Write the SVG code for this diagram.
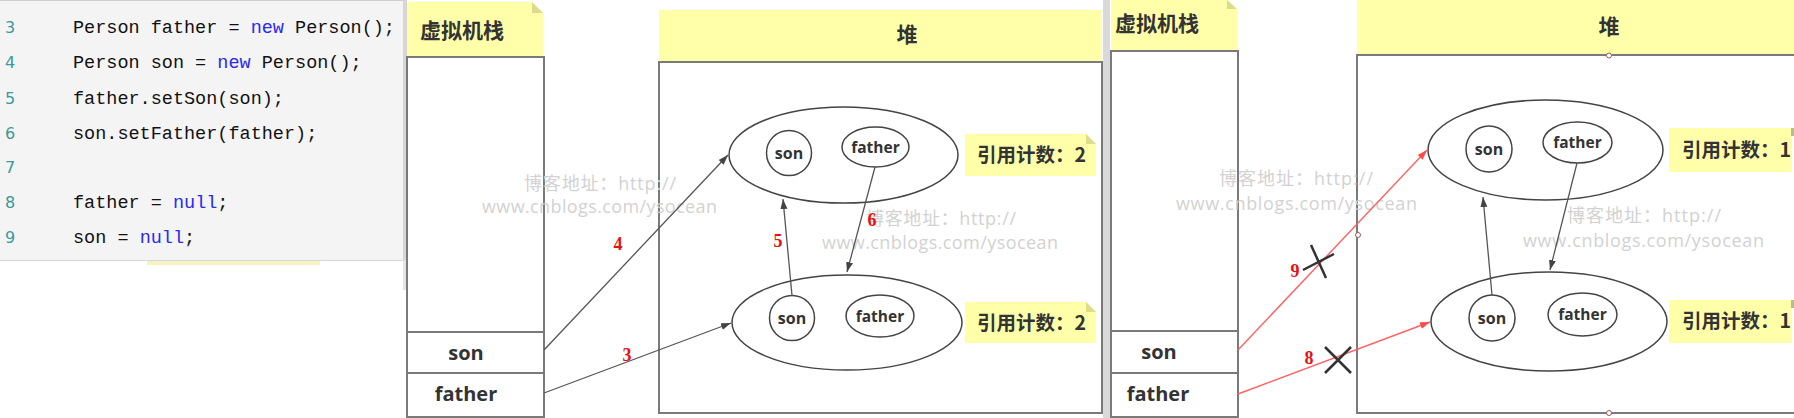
<svg xmlns="http://www.w3.org/2000/svg" width="1794" height="418" viewBox="0 0 1794 418">
<defs>
<style>
.code{font-family:"Liberation Mono","Courier New",monospace;font-size:18.5px;fill:#111;white-space:pre}
.kw{fill:#2a2af0}
.ln{font-family:"DejaVu Sans",sans-serif;font-size:16px;fill:#3a9a9a}
.hdr{fill:#ffffaa}
.fold{fill:#dcdc8c}
.box{fill:none;stroke:#7a7a7a;stroke-width:2}
.cjk{font-family:"Noto Sans CJK SC","Noto Sans",sans-serif;font-weight:bold;fill:#333}
.lbl{font-family:"Open Sans","Noto Sans",sans-serif;font-weight:bold;fill:#333;text-anchor:middle}
.ell{fill:#fff;stroke:#444;stroke-width:1.5}
.in{fill:none;stroke:#444;stroke-width:1.5}
.arr{stroke:#555;stroke-width:1.3;fill:none;marker-end:url(#ah)}
.rarr{stroke:#ff6262;stroke-width:1.4;fill:none;marker-end:url(#rah)}
.num{font-family:"Liberation Serif","Times New Roman",serif;font-weight:bold;font-size:18px;fill:#e81010;text-anchor:middle}
.wm{font-family:"Open Sans","Noto Sans","Noto Sans CJK SC",sans-serif;font-size:18px;fill:#d2d2d2}
.x{stroke:#333;stroke-width:2.5;fill:none}
.hd{fill:#fff;stroke:#a05a5a;stroke-width:1}
</style>
<marker id="ah" markerWidth="11" markerHeight="8" refX="10" refY="3.5" orient="auto" markerUnits="userSpaceOnUse"><path d="M0,0 L10,3.5 L0,7 z" fill="#444"/></marker>
<marker id="rah" markerWidth="11" markerHeight="8" refX="10" refY="3.5" orient="auto" markerUnits="userSpaceOnUse"><path d="M0,0 L10,3.5 L0,7 z" fill="#ff4a4a"/></marker>
</defs>
<rect width="1794" height="418" fill="#fff"/>

<g id="code">
<rect x="0" y="0" width="406" height="260" fill="#f4f4f4"/>
<line x1="0" y1="0.5" x2="406" y2="0.5" stroke="#cfcfcf"/>
<rect x="403" y="0" width="4" height="260" fill="#d6d6d6"/>
<line x1="0" y1="260.5" x2="406" y2="260.5" stroke="#d8d8d8"/>
<rect x="147" y="261" width="173" height="4" fill="#f6f2c4"/>
<rect x="403" y="260" width="3" height="30" fill="#e4e4e4"/>
<text class="ln" x="5" y="33">3</text>
<text class="ln" x="5" y="68">4</text>
<text class="ln" x="5" y="104">5</text>
<text class="ln" x="5" y="139">6</text>
<text class="ln" x="5" y="173">7</text>
<text class="ln" x="5" y="208">8</text>
<text class="ln" x="5" y="243">9</text>
<text class="code" x="73" y="33">Person father = <tspan class="kw">new</tspan> Person();</text>
<text class="code" x="73" y="68">Person son = <tspan class="kw">new</tspan> Person();</text>
<text class="code" x="73" y="104">father.setSon(son);</text>
<text class="code" x="73" y="139">son.setFather(father);</text>
<text class="code" x="73" y="208">father = <tspan class="kw">null</tspan>;</text>
<text class="code" x="73" y="243">son = <tspan class="kw">null</tspan>;</text>
</g>

<g id="stack1">
<polygon class="hdr" points="407,2 532,2 543,13 543,57 407,57"/>
<polygon class="fold" points="532,2 532,13 543,13"/>
<text class="cjk" x="420" y="38" font-size="21">虚拟机栈</text>
<rect class="box" x="407" y="57" width="137" height="360"/>
<line class="box" x1="407" y1="332" x2="544" y2="332"/>
<line class="box" x1="407" y1="373" x2="544" y2="373"/>
<text class="lbl" x="466" y="360" font-size="20">son</text>
<text class="lbl" x="466" y="401" font-size="20">father</text>
</g>

<g id="heap1">
<rect class="hdr" x="659" y="10" width="443" height="52"/>
<text class="cjk" x="907" y="42" font-size="21" text-anchor="middle">堆</text>
<rect class="box" x="659" y="62" width="443" height="351"/>
</g>

<g id="obj1a">
<ellipse class="ell" cx="843.5" cy="155" rx="114.5" ry="48"/>
<circle class="in" cx="789" cy="153" r="22.5"/>
<text class="lbl" x="789" y="159" font-size="16">son</text>
<ellipse class="in" cx="875.5" cy="147" rx="33.5" ry="20"/>
<text class="lbl" x="875.5" y="152.5" font-size="15.5">father</text>
</g>
<g id="obj1b">
<ellipse class="ell" cx="847" cy="322.5" rx="115" ry="47.5"/>
<circle class="in" cx="792" cy="318" r="22.5"/>
<text class="lbl" x="792" y="324" font-size="16">son</text>
<ellipse class="in" cx="880" cy="316" rx="34" ry="21"/>
<text class="lbl" x="880" y="321.5" font-size="15.5">father</text>
</g>
<g id="note1a">
<polygon class="hdr" points="965,134 1086,134 1096,144 1096,176 965,176"/>
<polygon class="fold" points="1086,134 1086,144 1096,144"/>
<text class="cjk" x="977" y="162" font-size="19.5">引用计数：2</text>
</g>
<g id="note1b">
<polygon class="hdr" points="965,302 1086,302 1096,312 1096,343 965,343"/>
<polygon class="fold" points="1086,302 1086,312 1096,312"/>
<text class="cjk" x="977" y="330" font-size="19.5">引用计数：2</text>
</g>

<rect id="separator" x="1103" y="0" width="7" height="418" fill="#d9d9d9"/>

<g id="stack2">
<polygon class="hdr" points="1111,0 1227,0 1237,9 1237,51 1111,51"/>
<polygon class="fold" points="1227,0 1227,9 1237,9"/>
<text class="cjk" x="1115" y="31" font-size="21">虚拟机栈</text>
<rect class="box" x="1111" y="51" width="127" height="366"/>
<line class="box" x1="1111" y1="331" x2="1238" y2="331"/>
<line class="box" x1="1111" y1="373" x2="1238" y2="373"/>
<text class="lbl" x="1159" y="359" font-size="20">son</text>
<text class="lbl" x="1158" y="401" font-size="20">father</text>
</g>

<g id="heap2">
<rect class="hdr" x="1357" y="0" width="437" height="55"/>
<text class="cjk" x="1609" y="34" font-size="21" text-anchor="middle">堆</text>
<path class="box" d="M1795,55 H1357 V413 H1795"/>
<circle class="hd" cx="1609" cy="55.5" r="2.5"/>
<circle class="hd" cx="1609" cy="413" r="2.5"/>
<circle class="hd" cx="1358" cy="235" r="2.5"/>
</g>

<g id="obj2a">
<ellipse class="ell" cx="1545.5" cy="150" rx="117.5" ry="50"/>
<circle class="in" cx="1489" cy="149" r="23"/>
<text class="lbl" x="1489" y="155" font-size="16">son</text>
<ellipse class="in" cx="1577.5" cy="142.5" rx="34.5" ry="20.5"/>
<text class="lbl" x="1577.5" y="148" font-size="15.5">father</text>
</g>
<g id="obj2b">
<ellipse class="ell" cx="1549" cy="321.5" rx="118" ry="49.5"/>
<circle class="in" cx="1492" cy="318" r="23"/>
<text class="lbl" x="1492" y="324" font-size="16">son</text>
<ellipse class="in" cx="1582.5" cy="314.5" rx="34.5" ry="21.5"/>
<text class="lbl" x="1582.5" y="320" font-size="15.5">father</text>
</g>
<g id="note2a">
<rect class="hdr" x="1669" y="128" width="123" height="44"/>
<rect x="1791" y="128" width="3" height="8" fill="#bcbc8a"/>
<text class="cjk" x="1682" y="157" font-size="19.5">引用计数：1</text>
</g>
<g id="note2b">
<rect class="hdr" x="1669" y="300" width="123" height="43"/>
<rect x="1791" y="300" width="3" height="8" fill="#bcbc8a"/>
<text class="cjk" x="1682" y="328" font-size="19.5">引用计数：1</text>
</g>

<g id="watermarks">
<text class="wm" x="524" y="190" textLength="152">博客地址：http://</text>
<text class="wm" x="482" y="213" textLength="235">www.cnblogs.com/ysocean</text>
<text class="wm" x="866" y="225" textLength="150">博客地址：http://</text>
<text class="wm" x="822" y="249" textLength="236">www.cnblogs.com/ysocean</text>
<text class="wm" x="1219" y="185" textLength="154">博客地址：http://</text>
<text class="wm" x="1176" y="210" textLength="241">www.cnblogs.com/ysocean</text>
<text class="wm" x="1567" y="222" textLength="154">博客地址：http://</text>
<text class="wm" x="1523" y="247" textLength="241">www.cnblogs.com/ysocean</text>
</g>

<g id="connectors">
<line class="arr" x1="544" y1="350" x2="728" y2="155"/>
<line class="arr" x1="544" y1="393" x2="731" y2="323"/>
<line class="arr" x1="792" y1="295.5" x2="783" y2="199"/>
<line class="arr" x1="875" y1="167" x2="847" y2="272"/>
<line class="rarr" x1="1238" y1="350" x2="1427" y2="150"/>
<line class="rarr" x1="1238" y1="394" x2="1430" y2="322"/>
<line class="arr" x1="1492" y1="295" x2="1483" y2="197"/>
<line class="arr" x1="1577" y1="163" x2="1550" y2="270"/>
<path class="x" d="M1311,245 L1326,278 M1303,270 L1334,254"/>
<path class="x" d="M1325,347 L1351,373 M1351,347 L1325,373"/>
<text class="num" x="618" y="250">4</text>
<text class="num" x="627" y="361">3</text>
<text class="num" x="778" y="247">5</text>
<text class="num" x="872" y="226">6</text>
<text class="num" x="1295" y="277">9</text>
<text class="num" x="1309" y="364">8</text>
</g>
</svg>
